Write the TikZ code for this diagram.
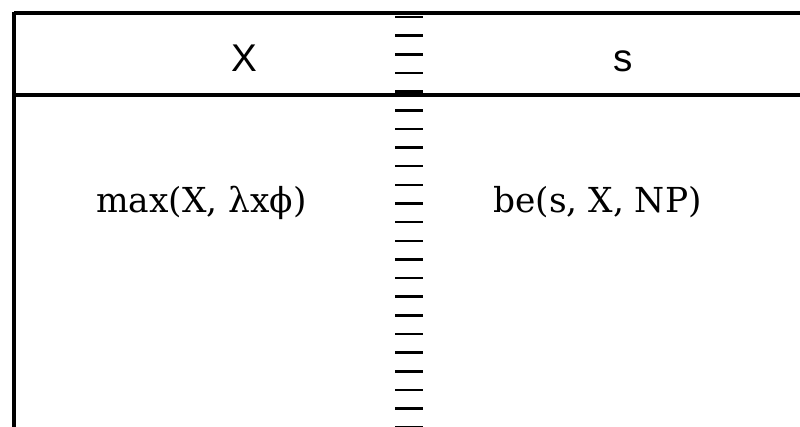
\documentclass[tikz,border=0pt]{standalone}
\usepackage{fontspec}
\setmainfont{DejaVu Serif}
\newfontfamily\kopffont{Liberation Sans}
\usetikzlibrary{positioning}
\begin{document}
\begin{tikzpicture}[x=0.75pt,y=-0.75pt,
  cabecera/.style={anchor=base,inner sep=0pt,font=\kopffont\fontsize{29}{33}\selectfont},
  celda/.style={anchor=base west,inner sep=0pt,font=\fontsize{25.8}{30}\selectfont},
  regla/.style={line width=2.4pt},
  raya/.style={line width=1.9pt}]
\useasboundingbox (0,0) rectangle (800,427);
% reglas de la tabla
\draw[regla] (14,13) -- (800,13);
\draw[regla] (14,95) -- (800,95);
\draw[regla] (14,12) -- (14,427);
% separador de columnas
\foreach \i in {0,...,22}
  \draw[raya] (395,17+18.65*\i) -- (423,17+18.65*\i);
% cabeceras
\node[cabecera] (hdrX) at (244,72) {X};
\node[cabecera] (hdrS) at (623,72) {s};
% contenido
\node[celda] (semX) at (96,213) {max(X, λxϕ)};
\node[celda] (semS) at (493,213) {be(s, X, NP)};
\end{tikzpicture}
\end{document}
